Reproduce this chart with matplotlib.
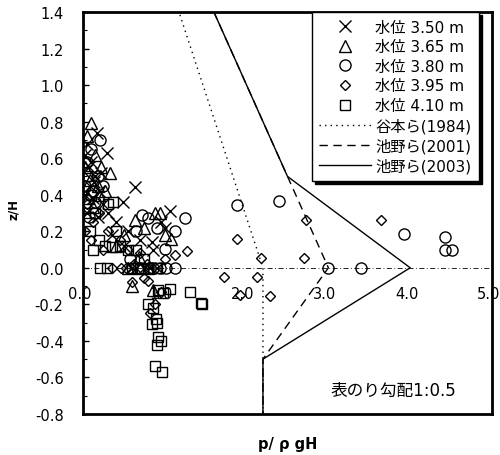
import matplotlib
matplotlib.use("Agg")
import matplotlib.pyplot as plt

plt.rcParams['font.family'] = ['DejaVu Sans', 'Noto Sans CJK JP']

# measured wave pressure, one series per water level
x_350 = [0.0, 0.02, 0.05, 0.17, 0.29, 0.10, 0.15, 0.08, 0.20, 0.12, 0.25, 0.49, 0.64,
         0.30, 0.40, 0.55, 0.70, 0.85, 1.06, 0.95, 0.84, 0.60, 0.75, 0.90, 1.00,
         0.03, 0.07, 0.13, 0.22, 0.05, 0.18, 0.65, 0.82, 0.50, 0.35]
z_350 = [0.53, 0.62, 0.68, 0.74, 0.63, 0.58, 0.50, 0.45, 0.42, 0.38, 0.35, 0.36, 0.44,
         0.30, 0.25, 0.20, 0.15, 0.10, 0.31, 0.25, 0.14, 0.0, 0.0, 0.0, 0.22,
         0.40, 0.55, 0.47, 0.52, 0.30, 0.28, 0.0, 0.0, 0.12, 0.18]

x_365 = [0.10, 0.33, 0.05, 0.15, 0.22, 0.08, 0.20, 0.12, 0.88, 0.64, 1.08, 0.94,
         0.75, 1.00, 0.50, 0.80, 0.60, 0.85, 0.03, 0.18, 0.27, 0.06, 0.55, 0.70,
         0.40, 0.68]
z_365 = [0.79, 0.52, 0.72, 0.62, 0.55, 0.48, 0.40, 0.33, 0.30, 0.26, 0.16, 0.30,
         0.22, 0.18, 0.18, 0.0, -0.10, -0.12, 0.55, 0.45, 0.42, 0.38, 0.0, 0.0,
         0.12, 0.06]

x_380 = [0.21, 0.10, 0.05, 0.18, 0.12, 0.25, 0.72, 0.80, 1.25, 1.12, 1.00, 0.94,
         1.02, 1.12, 1.88, 2.40, 3.00, 3.40, 3.92, 4.43, 4.42, 4.51, 0.65, 0.90,
         0.03, 0.15, 0.07, 0.85, 0.58]
z_380 = [0.70, 0.65, 0.58, 0.50, 0.42, 0.45, 0.29, 0.27, 0.27, 0.20, 0.105, 0.0,
         0.0, 0.0, 0.345, 0.365, 0.0, 0.0, 0.185, 0.17, 0.095, 0.095, 0.20, 0.22,
         0.45, 0.36, 0.28, 0.0, 0.05]

x_395 = [0.12, 0.05, 0.20, 0.30, 0.45, 0.55, 0.70, 1.12, 1.27, 1.00, 0.36, 0.47,
         0.60, 0.74, 0.80, 1.72, 1.88, 2.13, 2.17, 2.70, 2.73, 3.64, 1.92, 2.29,
         0.95, 0.88, 0.82, 0.02, 0.10, 0.25, 0.62, 0.78, 0.52]
z_395 = [0.25, 0.35, 0.30, 0.20, 0.15, 0.10, 0.08, 0.07, 0.09, 0.05, 0.0, 0.0,
         -0.08, -0.055, -0.07, -0.05, 0.155, -0.05, 0.053, 0.053, 0.26, 0.26, -0.15, -0.157,
         -0.13, -0.20, -0.25, 0.20, 0.15, 0.10, 0.02, 0.02, 0.0]

x_410 = [0.21, 0.29, 0.27, 0.35, 0.45, 0.55, 0.65, 0.40, 0.30, 0.37, 0.15, 0.08,
         0.20, 1.06, 0.98, 0.92, 1.31, 1.44, 1.45, 0.79, 0.85, 0.89, 0.84, 0.90,
         0.92, 0.90, 0.95, 0.88, 0.97, 0.70, 0.80, 0.02, 0.10, 0.05, 0.12, 0.60,
         0.90, 0.75]
z_410 = [0.0, 0.0, 0.12, 0.115, 0.12, 0.10, 0.10, 0.20, 0.35, 0.36, 0.30, 0.20,
         0.15, -0.115, -0.14, -0.12, -0.13, -0.19, -0.20, -0.20, -0.22, -0.28, -0.31, -0.30,
         -0.38, -0.42, -0.40, -0.535, -0.57, 0.0, 0.0, 0.30, 0.40, 0.50, 0.10, 0.0,
         0.0, 0.05]

# design pressure distributions
x_tanimoto = [0.0, 2.2, 2.2]
z_tanimoto = [3.0, 0.0, -0.8]
x_ikeno01 = [0.0, 2.5, 3.0, 2.2, 2.2]
z_ikeno01 = [3.0, 0.5, 0.0, -0.5, -0.8]
x_ikeno03 = [0.0, 2.5, 4.0, 2.2, 2.2]
z_ikeno03 = [3.0, 0.5, 0.0, -0.5, -0.8]

xtick_vals = [0.0, 1.0, 2.0, 3.0, 4.0, 5.0]

fig = plt.figure(figsize=(5.0, 4.56), dpi=100)
ax = fig.add_axes([0.166, 0.09, 0.818, 0.8815])

ax.axhline(0, color='black', lw=0.6, ls=(0, (6, 3, 1, 3)), zorder=1)

# x tick labels sit on the z/H = 0 line
for xv in xtick_vals:
    ax.text(xv - 0.045, -0.14, f'{xv:.1f}', ha='center', va='center',
            fontsize=10.5, zorder=1)

mk = dict(ls='none', mfc='none', mec='black', mew=1.0, zorder=3)
ax.plot(x_350, z_350, marker='x', ms=8, label='水位 3.50 m', **mk)
ax.plot(x_365, z_365, marker='^', ms=8, label='水位 3.65 m', **mk)
ax.plot(x_380, z_380, marker='o', ms=8, label='水位 3.80 m', **mk)
ax.plot(x_395, z_395, marker='D', ms=5.6, label='水位 3.95 m', **mk)
ax.plot(x_410, z_410, marker='s', ms=7.5, label='水位 4.10 m', **mk)

ax.plot(x_tanimoto, z_tanimoto, color='black', lw=1.0, ls=(0, (1, 3)), label='谷本ら(1984)', zorder=2)
ax.plot(x_ikeno01, z_ikeno01, color='black', lw=1.0, ls=(0, (6, 4)), label='池野ら(2001)', zorder=2)
ax.plot(x_ikeno03, z_ikeno03, color='black', lw=1.0, label='池野ら(2003)', zorder=2)

ax.set_xlim(0, 5)
ax.set_ylim(-0.8, 1.4)
ax.set_xticks([])
ax.set_yticks([-0.8, -0.6, -0.4, -0.2, 0.0, 0.2, 0.4, 0.6, 0.8, 1.0, 1.2, 1.4])
ax.set_yticks([v / 10 for v in range(-8, 15)], minor=True)
ax.yaxis.set_major_formatter(matplotlib.ticker.FormatStrFormatter('%.1f'))
ax.tick_params(axis='y', which='major', direction='in', length=4, width=1, pad=14, labelsize=10.5)
ax.tick_params(axis='y', which='minor', direction='in', length=3, width=0.8)
for sp in ax.spines.values():
    sp.set_linewidth(2.0)

ax.text(3.02, -0.668, '表のり勾配1:0.5', fontsize=12, va='center')

ax.set_ylabel('z/H', fontsize=8.5, fontweight='bold')
ax.yaxis.set_label_coords(-0.155, 0.51)
ax.set_xlabel('p/ ρ gH', fontsize=10.5, fontweight='bold')
ax.xaxis.set_label_coords(0.5, -0.055)

leg = ax.legend(loc='upper right', bbox_to_anchor=(0.968, 1.0), borderaxespad=0,
                fontsize=11, frameon=True, fancybox=False, handlelength=3.4,
                labelspacing=0.3, handletextpad=0.25, borderpad=0.5,
                shadow={'color': 'black', 'alpha': 1.0})
leg.get_frame().set_edgecolor('black')
leg.get_frame().set_linewidth(1.0)

fig.savefig('out.png', dpi=100)
